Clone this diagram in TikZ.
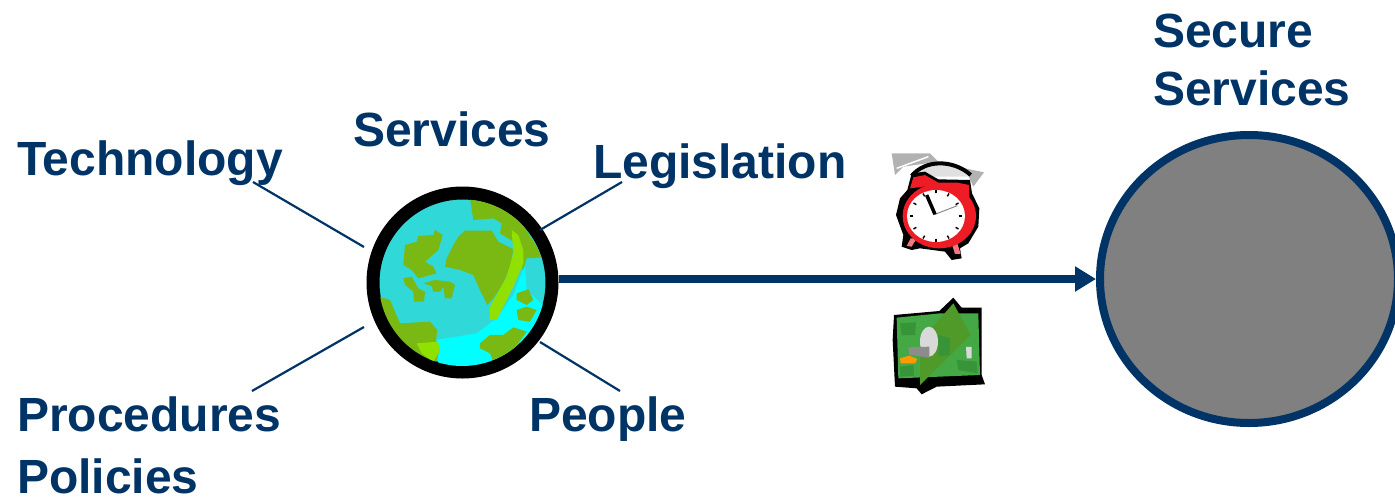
\documentclass[tikz,border=0pt]{standalone}
\usepackage{fontspec}
\setmainfont{Liberation Sans}
\usetikzlibrary{arrows.meta,calc,shapes.geometric}
\definecolor{navy}{HTML}{003366}
\definecolor{ocean}{HTML}{30D8D8}
\definecolor{brightsea}{HTML}{00FFFF}
\definecolor{land}{HTML}{7AB814}
\definecolor{brightland}{HTML}{90E000}
\definecolor{clockred}{HTML}{EE1C25}
\definecolor{cash}{HTML}{44A844}
\definecolor{cashdark}{HTML}{379438}
\definecolor{cashleaf}{HTML}{4F9A28}
\tikzset{
  label text/.style={font=\fontsize{48}{58}\selectfont\bfseries,text=navy,inner sep=0pt,outer sep=0pt,anchor=base west,align=left},
  spoke/.style={draw=navy,line width=2.2pt},
  flow/.style={draw=navy,line width=8.5pt,-{Triangle[length=21pt,width=24pt]}},
  zoomed/.style={x=0.3333pt,y=-0.3333pt}
}
\begin{document}
\begin{tikzpicture}[x=1pt,y=-1pt]
\useasboundingbox (0,0) rectangle (1395,501);
\clip (0,0) rectangle (1395,501);
% nodes
\node[circle,draw=black,fill=ocean,line width=13pt,minimum size=179pt,inner sep=0pt] (globe) at (462.5,282.5) {};
\node[ellipse,draw=navy,fill=gray,line width=8pt,minimum width=298pt,minimum height=288pt,inner sep=0pt] (target) at (1249,279) {};
% globe artwork
\begin{scope}[shift={(350,170)},zoomed]
\clip (337,338) circle [radius=250];
\fill[brightsea] (525,285) -- (530,360) -- (590,415) -- (560,500) -- (430,590) -- (265,590) -- (258,510) -- (380,490) -- (440,445) -- (490,375) -- cycle;
\fill[land] (360,85) -- (420,85) -- (500,135) -- (560,230) -- (575,262) -- (530,265) -- (520,300) -- (490,240) -- (490,215) -- (450,190) -- (455,160) -- (430,145) -- (370,150) -- cycle;
\fill[land] (345,182) -- (425,182) -- (445,215) -- (490,238) -- (480,290) -- (460,340) -- (430,385) -- (412,405) -- (390,360) -- (370,315) -- (330,300) -- (285,290) -- (290,265) -- (305,235) -- (325,200) -- cycle;
\fill[brightland] (485,180) -- (505,195) -- (520,240) -- (520,280) -- (490,350) -- (440,450) -- (418,450) -- (420,410) -- (470,320) -- (490,250) -- cycle;
\fill[land] (80,378) -- (120,390) -- (150,460) -- (240,455) -- (262,480) -- (258,510) -- (268,540) -- (255,590) -- (180,570) -- (80,460) -- cycle;
\fill[brightland] (200,520) -- (265,515) -- (268,545) -- (250,575) -- (215,550) -- cycle;
\fill[land] (390,520) -- (420,495) -- (460,495) -- (490,472) -- (530,485) -- (490,540) -- (430,575) -- (420,550) -- (390,535) -- cycle;
\fill[land] (500,370) -- (535,358) -- (550,390) -- (530,405) -- (500,390) -- cycle;
\fill[land] (500,420) -- (530,410) -- (560,420) -- (540,455) -- (505,450) -- cycle;
\fill[land] (165,225) -- (200,215) -- (205,198) -- (250,195) -- (255,180) -- (278,195) -- (265,240) -- (225,275) -- (250,290) -- (260,310) -- (205,325) -- (185,300) -- (160,285) -- cycle;
\fill[land] (160,325) -- (185,320) -- (205,355) -- (225,365) -- (222,395) -- (192,395) -- (190,365) -- (165,345) -- cycle;
\fill[land] (220,340) -- (255,330) -- (300,335) -- (315,345) -- (305,385) -- (285,385) -- (280,350) -- (270,365) -- (250,365) -- (245,348) -- cycle;
\end{scope}
% clock artwork
\begin{scope}[shift={(870,140)},zoomed]
\fill[black!30] (65,40) -- (180,40) -- (205,65) -- (100,80) -- (75,105) -- cycle;
\draw[white,line width=1.5pt] (80,85) -- (175,50);
\fill[black!30] (285,85) -- (342,97) -- (310,140) -- cycle;
\fill[black!12] (130,110) .. controls (170,65) and (250,65) .. (298,110) -- cycle;
\draw[black,line width=4pt] (125,108) .. controls (165,58) and (250,58) .. (302,105);
\fill[black] (112,150) -- (125,100) -- (165,95) -- (205,118) -- (300,120) -- (306,160) -- (328,205) -- (325,260) -- (295,310) -- (270,325) -- (275,355) -- (245,360) -- (225,335) -- (150,325) -- (125,330) -- (95,320) -- (100,285) -- (78,225) -- (90,175) -- cycle;
\fill[clockred] (120,145) -- (130,112) -- (165,105) -- (205,128) -- (262,128) -- (297,135) -- (298,175) -- (250,140) -- (160,140) -- cycle;
\fill[clockred!60!white] (122,295) -- (140,295) -- (125,320) -- (110,318) -- cycle;
\fill[clockred!60!white] (245,310) -- (262,310) -- (272,342) -- (255,342) -- cycle;
\fill[clockred] (208,228) ellipse [x radius=110,y radius=97];
\fill[white] (198,228) ellipse [x radius=87,y radius=78];
\draw[black!45,line width=1pt] (195,223) -- (262,197);
\draw[black,line width=3.5pt] (170,165) -- (195,223);
\foreach \a in {0,30,...,330}{\draw[black,line width=1.4pt] ($(198,228)+(\a:68)$) -- ($(198,228)+(\a:78)$);}
\end{scope}
% money artwork
\begin{scope}[shift={(870,285)},zoomed]
\fill[black] (72,90) -- (208,78) -- (250,38) -- (275,68) -- (335,68) -- (335,270) -- (345,298) -- (200,305) -- (155,328) -- (140,310) -- (75,305) -- (68,165) -- cycle;
\fill[cash] (80,98) -- (210,85) -- (325,85) -- (330,270) -- (85,280) -- cycle;
\fill[cashleaf] (150,300) -- (150,170) -- (250,55) -- (302,150) -- cycle;
\fill[cashdark] (90,115) -- (138,112) -- (135,150) -- (95,150) -- cycle;
\fill[cashdark] (90,245) -- (130,240) -- (132,272) -- (90,275) -- cycle;
\fill[cashdark] (260,225) -- (320,230) -- (322,265) -- (265,255) -- cycle;
\fill[cashdark] (205,150) -- (240,160) -- (238,210) -- (205,215) -- cycle;
\fill[black!15] (177,170) ellipse [x radius=27,y radius=45];
\fill[black!45] (115,187) -- (178,185) -- (178,218) -- (118,210) -- cycle;
\fill[black!15] (288,186) -- (305,186) -- (305,220) -- (290,220) -- cycle;
\fill[orange!80!yellow] (90,220) -- (118,212) -- (142,222) -- (135,235) -- (92,235) -- cycle;
\end{scope}
% connectors
\coordinate (techend) at (253,182);
\coordinate (techglobe) at (364,247);
\coordinate (legend) at (622,182);
\coordinate (legglobe) at (540,230);
\coordinate (procend) at (252,391);
\coordinate (procglobe) at (364,327);
\coordinate (peopleend) at (620,391);
\coordinate (peopleglobe) at (540,342);
\draw[spoke] (techend) -- (techglobe);
\draw[spoke] (legend) -- (legglobe);
\draw[spoke] (procend) -- (procglobe);
\draw[spoke] (peopleend) -- (peopleglobe);
\draw[flow] (globe.east |- target.west) -- (target.west);
% labels
\node[label text] (technology) at (17,175) {Technology};
\node[label text] (services) at (353,146) {Services};
\node[label text] (legislation) at (593,178) {Legislation};
\node[label text] (procedures) at (17,431) {Procedures};
\node[label text] (policies) at (17,493) {Policies};
\node[label text] (people) at (529,431) {People};
\node[label text] (secure) at (1153,105) {Secure\\Services};
\end{tikzpicture}
\end{document}
